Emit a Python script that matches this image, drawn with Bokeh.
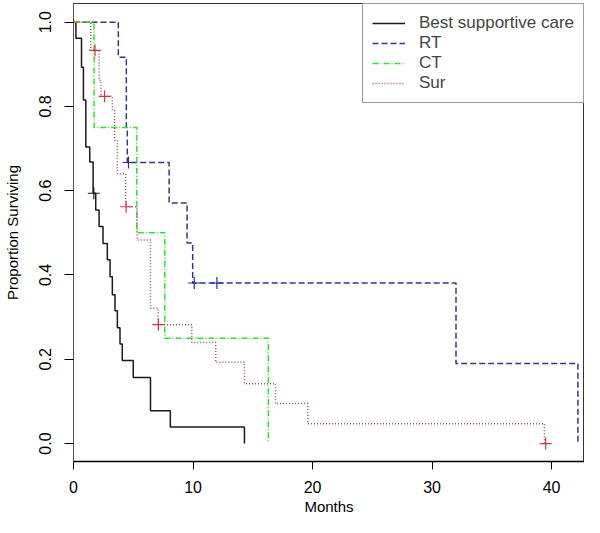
from bokeh.plotting import figure
from bokeh.models import Range1d, FixedTicker, Legend, LegendItem
from bokeh.embed import file_html
from bokeh.resources import INLINE

# ---- data ----
bsc_t = [0, 0.2, 0.67, 0.83, 1.03, 1.36, 1.64, 1.86, 2.14, 2.47, 2.83, 3.06, 3.25, 3.47, 3.67, 3.89, 4.08, 5.0, 6.44, 8.1, 14.3]
bsc_s = [1.0, 0.962, 0.893, 0.815, 0.704, 0.668, 0.594, 0.554, 0.515, 0.475, 0.436, 0.396, 0.353, 0.315, 0.275, 0.236, 0.197, 0.157, 0.078, 0.039, 0.0]
bsc_cens_t = [1.7]
bsc_cens_s = [0.594]

rt_t = [0, 3.75, 4.42, 4.5, 8.0, 9.5, 9.97, 32.0, 42.2]
rt_s = [1.0, 0.917, 0.75, 0.667, 0.571, 0.476, 0.381, 0.19, 0.0]
rt_cens_t = [4.6, 10.1, 12.0]
rt_cens_s = [0.667, 0.381, 0.381]

ct_t = [0, 1.72, 5.3, 7.64, 16.3]
ct_s = [1.0, 0.75, 0.5, 0.25, 0.0]

sur_t = [0, 1.44, 2.14, 2.3, 3.25, 3.44, 3.67, 4.36, 5.33, 6.44, 7.08, 9.9, 11.9, 14.3, 16.9, 19.6, 39.4]
sur_s = [1.0, 0.933, 0.862, 0.824, 0.79, 0.72, 0.64, 0.562, 0.483, 0.321, 0.282, 0.24, 0.193, 0.142, 0.095, 0.047, 0.0]
sur_cens_t = [1.8, 2.6, 4.4, 7.1, 39.5]
sur_cens_s = [0.933, 0.824, 0.562, 0.282, 0.0]

origin_cens_t = [0.0]
origin_cens_s = [1.0]

x_ticks = [0, 10, 20, 30, 40]
y_ticks = [0.0, 0.2, 0.4, 0.6, 0.8, 1.0]
y_tick_labels = {0.0: "0.0", 0.2: "0.2", 0.4: "0.4", 0.6: "0.6", 0.8: "0.8", 1.0: "1.0"}

names = ["Best supportive care", "RT", "CT", "Sur"]

FONT = "Liberation Sans"

p = figure(width=584, height=517, output_backend="svg", toolbar_location=None,
           x_range=Range1d(0, 42.75), y_range=Range1d(-0.0426, 1.0443),
           min_border_left=71, min_border_right=0, min_border_top=3, min_border_bottom=55,
           background_fill_color="white", border_fill_color="white")

p.xgrid.visible = False
p.ygrid.visible = False
p.outline_line_color = "#333333"
p.outline_line_width = 1

# curves
r_bsc = p.step(bsc_t, bsc_s, mode="after", line_color="#1a1a1a", line_width=1.5)
r_rt = p.step(rt_t, rt_s, mode="after", line_color="#35358C", line_width=1.5, line_dash="6 3")
r_ct = p.step(ct_t, ct_s, mode="after", line_color="#33DD33", line_width=1.5, line_dash="6 2 1 2")
r_sur = p.step(sur_t, sur_s, mode="after", line_color="#A0505A", line_width=1.5, line_dash="1 2")

# censor marks
p.scatter(bsc_cens_t, bsc_cens_s, marker="cross", size=12, line_color="#1a1a1a", line_width=1.2)
p.scatter(rt_cens_t, rt_cens_s, marker="cross", size=12, line_color="#2a2aa0", line_width=1.2)
p.scatter(sur_cens_t, sur_cens_s, marker="cross", size=12, line_color="#C83848", line_width=1.2)
p.scatter(origin_cens_t, origin_cens_s, marker="cross", size=12, line_color="#D08030", line_width=1.2)

# axes
for ax in (p.xaxis[0], p.yaxis[0]):
    ax.major_tick_in = 0
    ax.minor_tick_line_color = None
    ax.major_tick_line_color = "black"
    ax.major_label_text_font = FONT
    ax.major_label_text_font_size = "16px"
    ax.major_label_text_color = "black"
    ax.axis_label_text_font = FONT
    ax.axis_label_text_font_size = "15px"
    ax.axis_label_text_font_style = "normal"
    ax.axis_label_text_color = "black"

p.xaxis[0].ticker = FixedTicker(ticks=x_ticks)
p.xaxis[0].axis_label = "Months"
p.xaxis[0].major_tick_out = 8
p.xaxis[0].major_label_standoff = 11
p.xaxis[0].axis_label_standoff = 2
p.xaxis[0].axis_line_color = "black"
p.xaxis[0].axis_line_width = 1.5

p.yaxis[0].ticker = FixedTicker(ticks=y_ticks)
p.yaxis[0].major_label_overrides = y_tick_labels
p.yaxis[0].major_label_orientation = "vertical"
p.yaxis[0].axis_label = "Proportion Surviving"
p.yaxis[0].major_tick_out = 9
p.yaxis[0].major_label_standoff = 13
p.yaxis[0].axis_label_standoff = 16
p.yaxis[0].axis_line_color = "#555555"

legend = Legend(items=[LegendItem(label=n, renderers=[r]) for n, r in zip(names, [r_bsc, r_rt, r_ct, r_sur])],
                location="top_right", margin=0, padding=9, spacing=0,
                glyph_width=33, label_standoff=14,
                label_text_font=FONT, label_text_font_size="17px",
                border_line_color="#333333", border_line_width=1,
                background_fill_color="white", background_fill_alpha=1.0)
p.add_layout(legend)

open("out.html", "w").write(file_html(p, INLINE))
